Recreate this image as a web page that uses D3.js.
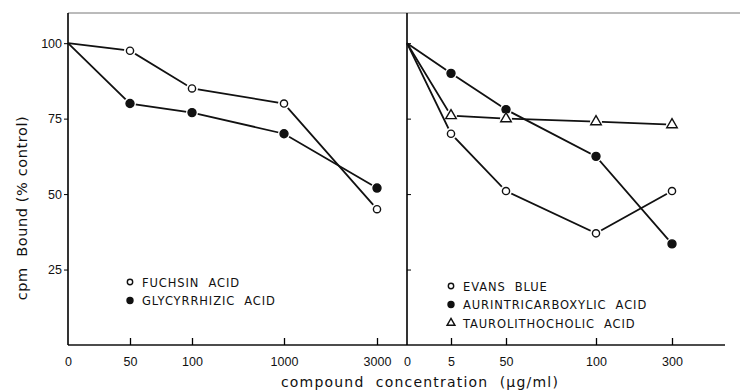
<!DOCTYPE html>
<html>
<head>
<meta charset="utf-8">
<script src="https://cdn.jsdelivr.net/npm/d3@7"></script>
<style>
  body { margin: 0; background: #fff; }
  svg { display: block; font-family: "DejaVu Sans", "Liberation Sans", sans-serif; }
  .tick text { font-size: 12.5px; fill: #111; }
  .legend text { font-size: 11.5px; letter-spacing: 0.9px; fill: #111; white-space: pre; }
  .title { white-space: pre; fill: #111; }
</style>
</head>
<body>
<svg id="chart" width="740" height="392"></svg>
<script>
// left panel: concentration categories (µg/ml)
const leftCats = ['0', '50', '100', '1000', '3000'];
const fuchsinAcid = [100, 97.5, 85, 80, 45];
const glycyrrhizicAcid = [100, 80, 77, 70, 52];

// right panel
const rightCats = ['0', '5', '50', '100', '300'];
const evansBlue = [100, 70, 51, 37, 51];
const aurintricarboxylic = [100, 90, 78, 62.5, 33.5];
const taurolithocholic = [100, 76, 75, 74, 73];

const yTicks = [25, 50, 75, 100];
const leftLegend = ['FUCHSIN  ACID', 'GLYCYRRHIZIC  ACID'];
const rightLegend = ['EVANS  BLUE', 'AURINTRICARBOXYLIC  ACID', 'TAUROLITHOCHOLIC  ACID'];

const svg = d3.select('#chart');
const plotTop = 13, plotBottom = 345;
const leftX0 = 68, rightX0 = 407;

const y = d3.scaleLinear().domain([0, 110]).range([plotBottom, plotTop]);

// uneven category spacing as in the original figure
const xLeft = d3.scaleOrdinal().domain(leftCats).range([68, 130, 192, 284, 377]);
const xRight = d3.scaleOrdinal().domain(rightCats).range([407, 451, 506, 596, 672]);

// frame lines
svg.append('line')
  .attr('x1', leftX0).attr('x2', 740).attr('y1', plotTop).attr('y2', plotTop)
  .attr('stroke', '#777').attr('stroke-width', 1);
svg.append('line')
  .attr('x1', leftX0).attr('x2', 725).attr('y1', plotBottom).attr('y2', plotBottom)
  .attr('stroke', '#111').attr('stroke-width', 1.3);

// y axes
const yAxisLeft = svg.append('g')
  .attr('transform', `translate(${leftX0},0)`)
  .call(d3.axisLeft(y).tickValues(yTicks).tickSize(4).tickPadding(2));
yAxisLeft.select('.domain').attr('d', `M0,${plotTop}V${plotBottom}`).attr('stroke-width', 1.6);

const yAxisRight = svg.append('g')
  .attr('transform', `translate(${rightX0},0)`)
  .call(d3.axisRight(y).tickValues(yTicks).tickSize(4).tickFormat(''));
yAxisRight.select('.domain').attr('d', `M0,${plotTop}V${plotBottom}`).attr('stroke-width', 1.6);

// x axes, ticks pointing up into the plot
function xAxis(scale) {
  return g => {
    g.attr('transform', `translate(0,${plotBottom})`)
      .call(d3.axisBottom(scale).tickSize(-7).tickPadding(12));
    g.select('.domain').remove();
    g.selectAll('.tick line').attr('stroke-width', 1.3);
  };
}
svg.append('g').call(xAxis(xLeft));
svg.append('g').call(xAxis(xRight));
svg.selectAll('.tick').filter(d => d === '0').select('line').remove();

// series drawing
const line = (xs) => d3.line().x((d, i) => xs(xs.domain()[i])).y(d => y(d));

function drawMarkers(g, pts, kind, scale = 1) {
  if (kind === 'triangle') {
    g.selectAll('.m').data(pts).join('path')
      .attr('transform', d => `translate(${d.x},${d.y})`)
      .attr('d', d3.symbol(d3.symbolTriangle, 48 * scale * scale))
      .attr('fill', '#fff').attr('stroke', '#111').attr('stroke-width', 1.4);
  } else {
    g.selectAll('.m').data(pts).join('circle')
      .attr('cx', d => d.x).attr('cy', d => d.y)
      .attr('r', (kind === 'filled' ? 4 : 3.6) * scale)
      .attr('fill', kind === 'filled' ? '#111' : '#fff')
      .attr('stroke', '#111').attr('stroke-width', 1.4);
  }
}

function drawSeries(xs, values, kind) {
  const g = svg.append('g');
  g.append('path')
    .datum(values)
    .attr('d', line(xs))
    .attr('fill', 'none')
    .attr('stroke', '#111')
    .attr('stroke-width', 1.8);
  const pts = values.map((v, i) => ({ x: xs(xs.domain()[i]), y: y(v) })).slice(1);
  // white halo so the line breaks around each marker
  g.selectAll('.halo').data(pts).join('circle')
    .attr('cx', d => d.x).attr('cy', d => d.y).attr('r', 6)
    .attr('fill', '#fff');
  drawMarkers(g.append('g'), pts, kind);
}

drawSeries(xLeft, fuchsinAcid, 'open');
drawSeries(xLeft, glycyrrhizicAcid, 'filled');
drawSeries(xRight, aurintricarboxylic, 'filled');
drawSeries(xRight, taurolithocholic, 'triangle');
drawSeries(xRight, evansBlue, 'open');

// legends
function legend(x, y0, names, kinds) {
  const g = svg.append('g').attr('class', 'legend');
  names.forEach((name, i) => {
    const cy = y0 + i * 18.5;
    drawMarkers(g.append('g'), [{ x: x, y: cy }], kinds[i], 0.75);
    g.append('text').attr('x', x + 12).attr('y', cy + 4.5).text(name);
  });
}
legend(130, 282, leftLegend, ['open', 'filled']);
legend(451, 286, rightLegend, ['open', 'filled', 'triangle']);

// axis titles
svg.append('text')
  .attr('class', 'title')
  .attr('transform', 'translate(27,208) rotate(-90)')
  .attr('text-anchor', 'middle')
  .attr('font-size', 14.5)
  .attr('letter-spacing', 0.6)
  .text('cpm  Bound (% control)');

svg.append('text')
  .attr('class', 'title')
  .attr('x', 420).attr('y', 387)
  .attr('text-anchor', 'middle')
  .attr('font-size', 14)
  .attr('letter-spacing', 1.2)
  .text('compound  concentration  (µg/ml)');
</script>
</body>
</html>
